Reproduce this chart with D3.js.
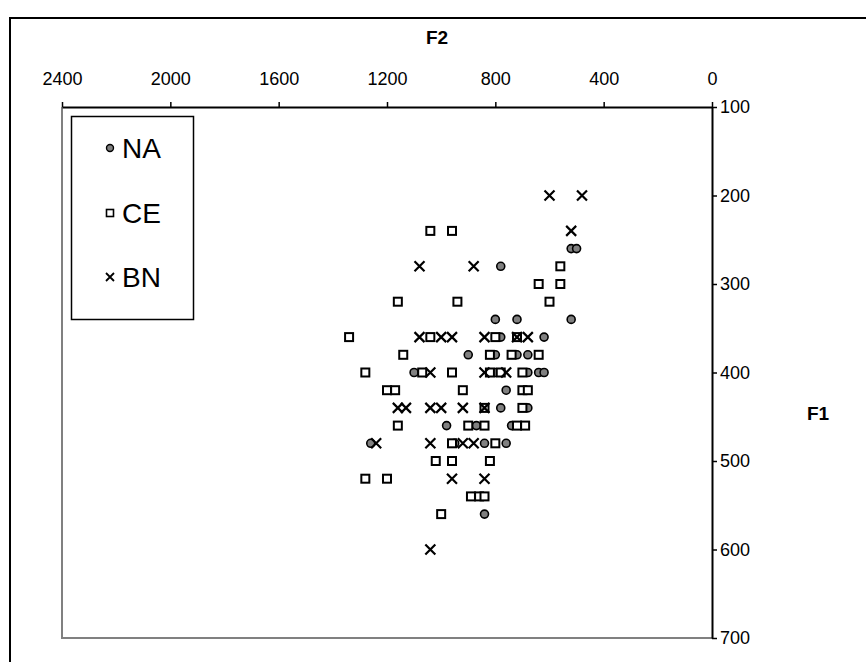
<!DOCTYPE html>
<html>
<head>
<meta charset="utf-8">
<script src="https://cdn.jsdelivr.net/npm/d3@7"></script>
<style>
  body { margin: 0; background: #fff; }
  svg { font-family: "Liberation Sans", Arial, sans-serif; }
</style>
</head>
<body>
<svg id="chart" width="866" height="662"></svg>
<script>
// données : [F2, F1]
var na_pts = [
  [520,260],[500,260],[780,280],[800,340],[720,340],[520,340],
  [780,360],[620,360],
  [900,380],[800,380],[720,380],[680,380],
  [1100,400],[800,400],[680,400],[640,400],[620,400],
  [760,420],
  [780,440],[680,440],
  [980,460],[870,460],[740,460],
  [1260,480],[950,480],[840,480],[760,480],
  [840,560]
];
var ce_pts = [
  [1040,240],[960,240],[560,280],[640,300],[560,300],[1160,320],[940,320],[600,320],
  [1340,360],[1040,360],[800,360],[720,360],
  [1140,380],[820,380],[740,380],[640,380],
  [1280,400],[1070,400],[960,400],[820,400],[780,400],[700,400],
  [1200,420],[1170,420],[920,420],[700,420],[680,420],
  [840,440],[700,440],
  [1160,460],[900,460],[840,460],[720,460],[690,460],
  [960,480],[800,480],
  [1020,500],[960,500],[820,500],
  [1280,520],[1200,520],
  [890,540],[860,540],[840,540],
  [1000,560]
];
var bn_pts = [
  [600,200],[480,200],[520,240],[1080,280],[880,280],
  [1080,360],[1000,360],[960,360],[840,360],[720,360],[680,360],
  [1040,400],[840,400],[760,400],
  [1160,440],[1130,440],[1040,440],[1000,440],[920,440],[840,440],
  [1240,480],[1040,480],[920,480],[880,480],
  [960,520],[840,520],
  [1040,600]
];
var series_names = ["NA", "CE", "BN"];
var f2_ticks = [2400, 2000, 1600, 1200, 800, 400, 0];
var f1_ticks = [100, 200, 300, 400, 500, 600, 700];

var svg = d3.select("#chart");

// cadre extérieur
svg.append("rect")
  .attr("x", 10).attr("y", 18)
  .attr("width", 880).attr("height", 700)
  .attr("fill", "none").attr("stroke", "#000").attr("stroke-width", 2);

// zone de tracé (attention: "top" est réservé par window)
var p_left = 62, p_right = 712, p_top = 107, p_bottom = 638;

var x = d3.scaleLinear().domain([2400, 0]).range([p_left, p_right]);
var y = d3.scaleLinear().domain([100, 700]).range([p_top, p_bottom]);

// bords gris de la zone de tracé
svg.append("path")
  .attr("d", `M${p_left},${p_top} V${p_bottom} H${p_right}`)
  .attr("fill", "none").attr("stroke", "#808080").attr("stroke-width", 2);

// axe F2 en haut
var gx = svg.append("g")
  .attr("transform", `translate(0,${p_top})`)
  .call(d3.axisTop(x).tickValues(f2_ticks).tickFormat(d3.format("d"))
    .tickSize(5).tickPadding(17).tickSizeOuter(0));
gx.select(".domain").attr("stroke", "#000").attr("stroke-width", 2);
gx.selectAll(".tick line").attr("stroke", "#000").attr("stroke-width", 1.5);
gx.selectAll("text").attr("font-size", 18).attr("fill", "#000")
  .attr("font-family", "Liberation Sans, Arial, sans-serif");

// axe F1 à droite
var gy = svg.append("g")
  .attr("transform", `translate(${p_right},0)`)
  .call(d3.axisRight(y).tickValues(f1_ticks).tickFormat(d3.format("d"))
    .tickSize(5).tickPadding(3).tickSizeOuter(0));
gy.select(".domain").attr("stroke", "#000").attr("stroke-width", 2);
gy.selectAll(".tick line").attr("stroke", "#000").attr("stroke-width", 1.5);
gy.selectAll("text").attr("font-size", 18).attr("fill", "#000")
  .attr("font-family", "Liberation Sans, Arial, sans-serif");

svg.append("text").attr("x", 437).attr("y", 44)
  .attr("text-anchor", "middle").attr("font-weight", "bold").attr("font-size", 19)
  .text("F2");
svg.append("text").attr("x", 818).attr("y", 420)
  .attr("text-anchor", "middle").attr("font-weight", "bold").attr("font-size", 19)
  .text("F1");

// marqueurs
function draw_circle(g, cx, cy) {
  g.append("circle").attr("cx", cx).attr("cy", cy).attr("r", 4)
    .attr("fill", "#808080").attr("stroke", "#000").attr("stroke-width", 1.6);
}
function draw_square(g, cx, cy) {
  g.append("rect").attr("x", cx - 4).attr("y", cy - 4).attr("width", 8).attr("height", 8)
    .attr("fill", "#fff").attr("stroke", "#000").attr("stroke-width", 2);
}
function draw_cross(g, cx, cy) {
  g.append("path")
    .attr("d", `M${cx-5},${cy-5}L${cx+5},${cy+5}M${cx-5},${cy+5}L${cx+5},${cy-5}`)
    .attr("stroke", "#000").attr("stroke-width", 2.2).attr("fill", "none");
}
var drawers = [draw_circle, draw_square, draw_cross];

var pts = svg.append("g");
[na_pts, ce_pts, bn_pts].forEach(function(serie, i) {
  serie.forEach(function(d) {
    drawers[i](pts, x(d[0]), y(d[1]));
  });
});

// légende
svg.append("rect").attr("x", 71.5).attr("y", 116.5).attr("width", 122).attr("height", 203)
  .attr("fill", "#fff").attr("stroke", "#000").attr("stroke-width", 1.5);
var leg_y = [148, 213, 277];
series_names.forEach(function(name, i) {
  var lg = svg.append("g");
  if (i == 0) {
    lg.append("circle").attr("cx", 110).attr("cy", leg_y[i]).attr("r", 3.5)
      .attr("fill", "#808080").attr("stroke", "#000").attr("stroke-width", 1.4);
  } else if (i == 1) {
    lg.append("rect").attr("x", 106.5).attr("y", leg_y[i] - 3.5).attr("width", 7).attr("height", 7)
      .attr("fill", "#fff").attr("stroke", "#000").attr("stroke-width", 1.6);
  } else {
    lg.append("path")
      .attr("d", `M106,${leg_y[i]-4}L114,${leg_y[i]+4}M106,${leg_y[i]+4}L114,${leg_y[i]-4}`)
      .attr("stroke", "#000").attr("stroke-width", 1.8);
  }
  lg.append("text").attr("x", 122).attr("y", leg_y[i] + 10)
    .attr("font-size", 28).text(name);
});
</script>
</body>
</html>
